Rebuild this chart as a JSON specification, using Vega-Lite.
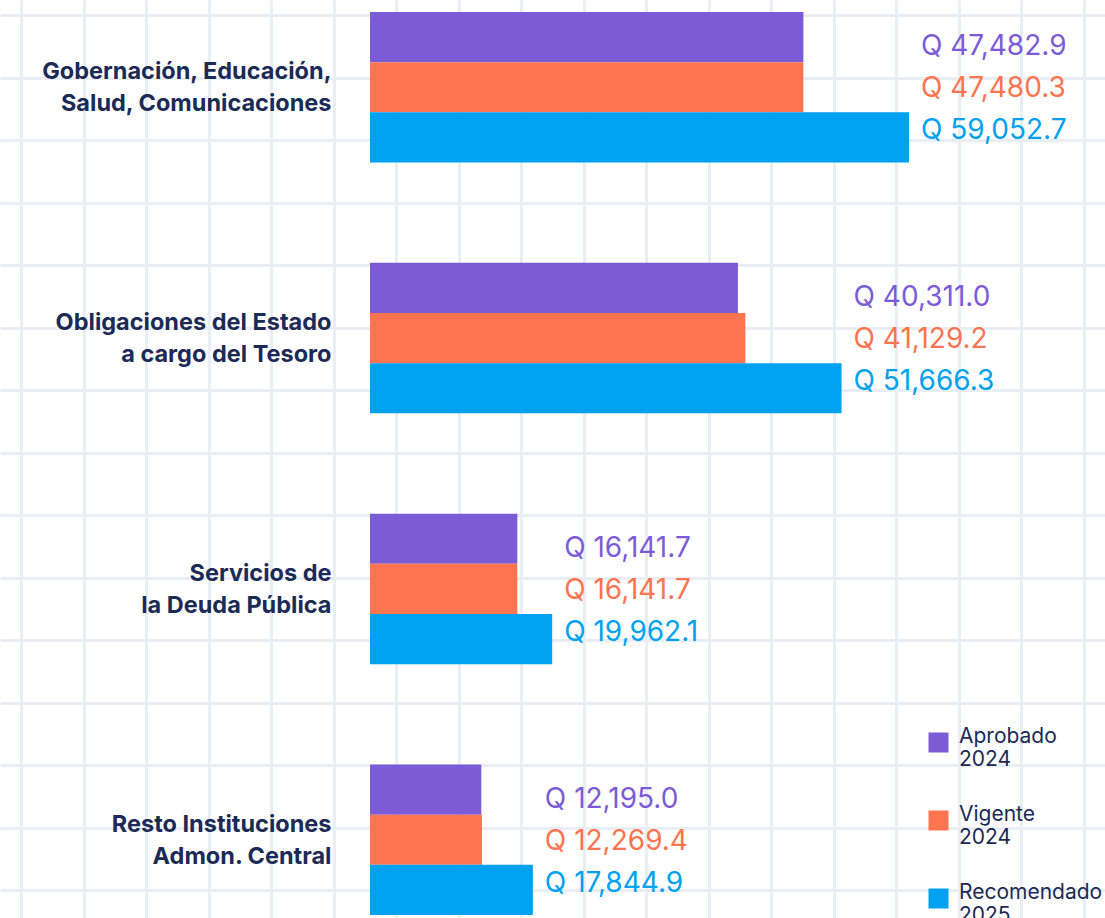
{
  "$schema": "https://vega.github.io/schema/vega-lite/v6.json",
  "width": 1105,
  "height": 918,
  "padding": 0,
  "autosize": "none",
  "background": "#ffffff",
  "config": {
    "view": {"stroke": null},
    "font": "Inter",
    "axis": {"labelFont": "Inter"},
    "legend": {"labelFont": "Inter"}
  },
  "datasets": {
    "presupuesto": [
      {"categoria": "Gobernación, Educación,\nSalud, Comunicaciones", "serie": "Aprobado 2024", "valor": 47482.9},
      {"categoria": "Gobernación, Educación,\nSalud, Comunicaciones", "serie": "Vigente 2024", "valor": 47480.3},
      {"categoria": "Gobernación, Educación,\nSalud, Comunicaciones", "serie": "Recomendado 2025", "valor": 59052.7},
      {"categoria": "Obligaciones del Estado\na cargo del Tesoro", "serie": "Aprobado 2024", "valor": 40311.0},
      {"categoria": "Obligaciones del Estado\na cargo del Tesoro", "serie": "Vigente 2024", "valor": 41129.2},
      {"categoria": "Obligaciones del Estado\na cargo del Tesoro", "serie": "Recomendado 2025", "valor": 51666.3},
      {"categoria": "Servicios de\nla Deuda Pública", "serie": "Aprobado 2024", "valor": 16141.7},
      {"categoria": "Servicios de\nla Deuda Pública", "serie": "Vigente 2024", "valor": 16141.7},
      {"categoria": "Servicios de\nla Deuda Pública", "serie": "Recomendado 2025", "valor": 19962.1},
      {"categoria": "Resto Instituciones\nAdmon. Central", "serie": "Aprobado 2024", "valor": 12195.0},
      {"categoria": "Resto Instituciones\nAdmon. Central", "serie": "Vigente 2024", "valor": 12269.4},
      {"categoria": "Resto Instituciones\nAdmon. Central", "serie": "Recomendado 2025", "valor": 17844.9}
    ],
    "cuadricula": [
      {"columna": 0, "fila": 0},
      {"columna": 17, "fila": 14}
    ]
  },
  "layer": [
    {
      "data": {"name": "cuadricula"},
      "mark": {"type": "point", "opacity": 0},
      "encoding": {
        "x": {
          "field": "columna",
          "type": "quantitative",
          "scale": {"domain": [-0.336, 17.344], "nice": false, "zero": false},
          "axis": {
            "orient": "bottom",
            "values": [0, 1, 2, 3, 4, 5, 6, 7, 8, 9, 10, 11, 12, 13, 14, 15, 16, 17],
            "grid": true,
            "gridColor": "#E9EEF5",
            "gridWidth": 3,
            "labels": false,
            "ticks": false,
            "domain": false,
            "title": null
          }
        },
        "y": {
          "field": "fila",
          "type": "quantitative",
          "scale": {"domain": [-0.24, 14.448], "nice": false, "zero": false, "reverse": true},
          "axis": {
            "orient": "left",
            "values": [0, 1, 2, 3, 4, 5, 6, 7, 8, 9, 10, 11, 12, 13, 14],
            "grid": true,
            "gridColor": "#E9EEF5",
            "gridWidth": 3,
            "labels": false,
            "ticks": false,
            "domain": false,
            "title": null
          }
        }
      }
    },
    {
      "data": {"name": "presupuesto"},
      "transform": [
        {"joinaggregate": [{"op": "max", "field": "valor", "as": "maxgrupo"}], "groupby": ["categoria"]},
        {"calculate": "'Q ' + format(datum.valor, ',.1f')", "as": "etiqueta"}
      ],
      "encoding": {
        "y": {
          "field": "categoria",
          "type": "nominal",
          "sort": [
            "Gobernación, Educación,\nSalud, Comunicaciones",
            "Obligaciones del Estado\na cargo del Tesoro",
            "Servicios de\nla Deuda Pública",
            "Resto Instituciones\nAdmon. Central"
          ],
          "scale": {"paddingInner": 0.4, "paddingOuter": 0.03, "align": 0.8},
          "axis": {
            "orient": "left",
            "offset": -331,
            "title": null,
            "ticks": false,
            "tickSize": 0,
            "domain": false,
            "grid": false,
            "labelPadding": 0,
            "labelOffset": -15,
            "labelExpr": "split(datum.value, '\\n')",
            "labelFontSize": 23.5,
            "labelFontWeight": "bold",
            "labelColor": "#1C2A56",
            "labelLineHeight": 32,
            "labelLimit": 0,
            "labelAlign": "right",
            "labelBaseline": "middle"
          }
        },
        "color": {
          "field": "serie",
          "type": "nominal",
          "sort": ["Aprobado 2024", "Vigente 2024", "Recomendado 2025"],
          "scale": {
            "domain": ["Aprobado 2024", "Vigente 2024", "Recomendado 2025"],
            "range": ["#7B5CD6", "#FD7450", "#00A1F1"]
          },
          "legend": {
            "orient": "none",
            "legendX": 928,
            "legendY": 732,
            "title": null,
            "symbolType": "square",
            "symbolSize": 400,
            "symbolStrokeWidth": 0,
            "symbolOpacity": 1,
            "labelFontSize": 21,
            "labelColor": "#1C2A56",
            "labelOffset": 10,
            "labelLimit": 0,
            "labelLineHeight": 19,
            "labelBaseline": "alphabetic",
            "labelExpr": "split(datum.label, ' ')",
            "rowPadding": 33
          }
        }
      },
      "layer": [
        {
          "mark": {"type": "bar"},
          "encoding": {
            "x": {
              "field": "valor",
              "type": "quantitative",
              "scale": {"domain": [-40538, 80529], "nice": false, "zero": false},
              "axis": null
            },
            "yOffset": {
              "field": "serie",
              "type": "nominal",
              "sort": ["Aprobado 2024", "Vigente 2024", "Recomendado 2025"],
              "scale": {"paddingInner": 0, "paddingOuter": 0}
            }
          }
        },
        {
          "mark": {"type": "text", "align": "left", "baseline": "middle", "dx": 12, "dy": 2, "fontSize": 28},
          "encoding": {
            "x": {"field": "maxgrupo", "type": "quantitative"},
            "yOffset": {
              "field": "serie",
              "type": "nominal",
              "sort": ["Aprobado 2024", "Vigente 2024", "Recomendado 2025"],
              "scale": {"type": "point", "padding": 0.79}
            },
            "text": {"field": "etiqueta"}
          }
        }
      ],
      "resolve": {"scale": {"yOffset": "independent"}}
    }
  ],
  "resolve": {"scale": {"x": "independent", "y": "independent"}}
}
